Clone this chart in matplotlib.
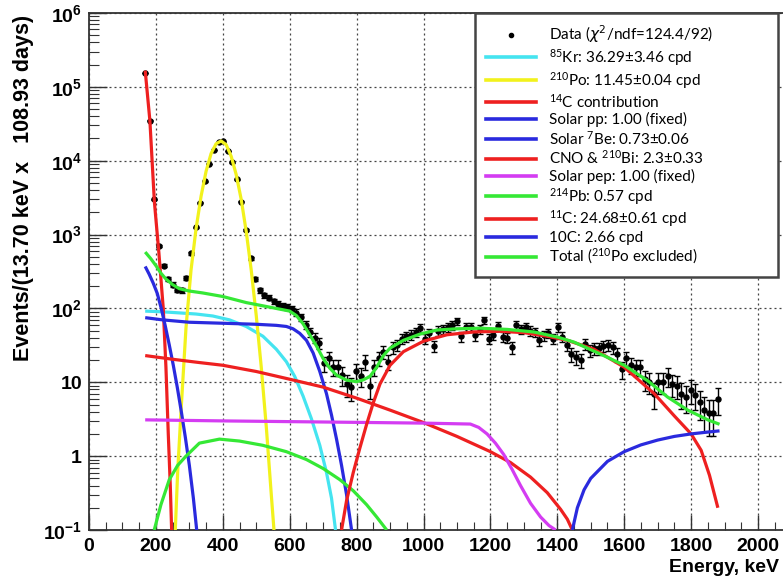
import numpy as np
import matplotlib
matplotlib.use("Agg")
import matplotlib.pyplot as plt
from matplotlib.lines import Line2D
from matplotlib.ticker import FixedLocator, MultipleLocator, NullFormatter

# ---------------- measured spectrum (13.70 keV bins) ----------------
bin_start = 168.0
bin_width = 13.70
counts = [
    1.55e5, 3.5e4, 3000, 700, 380, 250, 210, 180, 175, 260,
    560, 1250, 2700, 5300, 9000, 14000, 17800, 18300, 13500, 9500,
    5600, 2800, 1150, 480, 250, 175, 150, 140, 125, 116,
    108, 105, 98, 88, 76, 60, 48, 40, 34, 18,
    21, 16, 16, 12.5, 9.5, 8.5, 14, 12, 19, 9,
    16, 21, 26, 19, 30, 32, 39, 42, 44, 48,
    55, 39, 46, 31, 50, 53, 56, 59, 67, 42,
    56, 56, 43, 53, 69, 39, 44, 57, 41, 40,
    30, 59, 53, 56, 50, 48, 37, 43, 46, 39,
    56, 41, 32, 24, 22, 20, 33, 27, 29, 29,
    31, 32, 30, 24, 15, 21, 17, 16, 16, 11,
    10, 7, 10, 10, 12, 9.5, 9, 7, 6.3, 7.8,
    6.8, 5.4, 4.2, 3.8, 3.8, 6.0,
]

# ---------------- fit components ----------------
kr85_e = [168, 220, 270, 320, 370, 420, 470, 520, 560, 590, 615, 640, 665, 690, 710, 725, 737]
kr85_v = [92, 90, 87, 84, 79, 70, 57, 42, 28, 19, 12, 6.5, 3.2, 1.4, 0.6, 0.27, 0.1]

po210_e = [258, 265, 275, 290, 305, 320, 335, 350, 365, 380, 395, 410, 425, 440, 455, 470, 485,
           500, 515, 530, 545, 553]
po210_v = [0.1, 0.6, 4, 55, 330, 1200, 3300, 7200, 12500, 17000, 18500, 16500, 11500, 6500,
           3000, 1100, 330, 80, 16, 2.5, 0.3, 0.1]

c14_e = [168, 182, 195.4, 209, 222, 230, 237, 243, 247]
c14_v = [1.66e5, 3.5e4, 2800, 560, 100, 16, 2.0, 0.4, 0.1]

pp_e = [168, 180, 192, 204, 216, 228, 240, 252, 264, 276, 288, 300, 312, 322]
pp_v = [370, 290, 220, 160, 100, 58, 32, 17, 8.5, 4, 1.8, 0.75, 0.27, 0.1]

be7_e = [168, 220, 300, 400, 500, 560, 590, 610, 630, 650, 670, 690, 710, 725, 740, 755, 770, 785]
be7_v = [75, 70, 65, 63, 61, 59, 57, 53, 46, 37, 25, 14, 7, 3.6, 1.7, 0.75, 0.3, 0.1]

cno_e = [168, 250, 330, 400, 500, 600, 700, 800, 900, 1000, 1100, 1200, 1260, 1320, 1370,
         1410, 1430, 1445]
cno_v = [23, 20.5, 18.5, 17, 14, 11, 8.6, 6.1, 4.2, 2.85, 1.85, 1.15, 0.82, 0.52, 0.32,
         0.19, 0.14, 0.1]

pep_e = [168, 400, 700, 1000, 1140, 1165, 1190, 1215, 1240, 1265, 1290, 1320, 1350, 1375, 1395]
pep_v = [3.1, 3.0, 2.9, 2.8, 2.72, 2.45, 2.0, 1.5, 1.05, 0.66, 0.4, 0.23, 0.15, 0.115, 0.1]

pb214_e = [195, 215, 240, 265, 290, 330, 390, 450, 520, 590, 650, 700, 750, 790, 830, 860, 890]
pb214_v = [0.1, 0.22, 0.48, 0.75, 1.0, 1.5, 1.7, 1.6, 1.4, 1.15, 0.9, 0.68, 0.48, 0.34, 0.22,
           0.15, 0.1]

c11_e = [755, 770, 790, 810, 830, 850, 870, 900, 940, 1000, 1070, 1150, 1230, 1300, 1370, 1430,
         1510, 1600, 1690, 1750, 1800, 1830, 1855, 1880]
c11_v = [0.1, 0.25, 0.6, 1.3, 2.7, 5.3, 9.5, 17, 26, 36, 44, 48, 49, 47, 42, 37, 28, 16, 7.0,
         3.5, 2.0, 1.2, 0.55, 0.2]

c10_e = [1445, 1460, 1480, 1500, 1550, 1600, 1650, 1700, 1750, 1800, 1850, 1885]
c10_v = [0.1, 0.2, 0.35, 0.5, 0.85, 1.15, 1.42, 1.65, 1.85, 2.0, 2.12, 2.2]

total_e = [168, 185, 200, 215, 230, 250, 270, 300, 340, 400, 470, 550, 600, 620, 640, 660, 680,
           700, 720, 740, 770, 800, 820, 840, 860, 880, 900, 940, 990, 1040, 1100, 1170, 1250,
           1330, 1400, 1450, 1530, 1600, 1670, 1730, 1790, 1850, 1885]
total_v = [580, 470, 380, 300, 250, 210, 185, 172, 162, 145, 120, 102, 92, 80, 62, 44, 31,
           21, 15.5, 12.5, 10.7, 10.2, 10.8, 12, 16, 23, 29, 37, 45, 51, 53, 54, 52,
           48, 41, 35, 24, 17, 10.5, 6.3, 4.2, 3.1, 2.7]

legend_labels = [
    r"Data ($\chi^{2}$/ndf=124.4/92)",
    r"$\mathregular{^{85}}$Kr: 36.29±3.46 cpd",
    r"$\mathregular{^{210}}$Po: 11.45±0.04 cpd",
    r"$\mathregular{^{14}}$C contribution",
    "Solar pp: 1.00 (fixed)",
    r"Solar $\mathregular{^{7}}$Be: 0.73±0.06",
    r"CNO & $\mathregular{^{210}}$Bi: 2.3±0.33",
    "Solar pep: 1.00 (fixed)",
    r"$\mathregular{^{214}}$Pb: 0.57 cpd",
    r"$\mathregular{^{11}}$C: 24.68±0.61 cpd",
    "10C: 2.66 cpd",
    r"Total ($\mathregular{^{210}}$Po excluded)",
]

RED = "#ee2020"
BLUE = "#2a2ade"
CYAN = "#45e4f0"
YELLOW = "#f2f21c"
GREEN = "#35e835"
MAGENTA = "#d43cf2"

components = [
    (kr85_e, kr85_v, CYAN),
    (po210_e, po210_v, YELLOW),
    (c14_e, c14_v, RED),
    (pp_e, pp_v, BLUE),
    (be7_e, be7_v, BLUE),
    (cno_e, cno_v, RED),
    (pep_e, pep_v, MAGENTA),
    (pb214_e, pb214_v, GREEN),
    (c11_e, c11_v, RED),
    (c10_e, c10_v, BLUE),
    (total_e, total_v, GREEN),
]

# ---------------- figure ----------------
W, H = 783, 579
fig = plt.figure(figsize=(W / 100, H / 100), dpi=100)
ax_l, ax_r, ax_t, ax_b = 89, 783, 13, 530
ax = fig.add_axes([ax_l / W, 1 - ax_b / H, (ax_r - ax_l) / W, (ax_b - ax_t) / H])

px_per_kev = (758 - ax_l) / 2000.0
ax.set_xlim(0, (ax_r - ax_l) / px_per_kev)
ax.set_yscale("log")
ax.set_ylim(0.1, 1e6)

energy = bin_start + bin_width * np.arange(len(counts))
cnt = np.array(counts, dtype=float)
err = np.sqrt(cnt)
lo = np.minimum(err, cnt * 0.999)
ax.errorbar(energy, cnt, yerr=[lo, err], fmt="o", color="black", ms=3.6,
            elinewidth=1.0, capsize=2.2, capthick=1.0, zorder=3)

for e, v, c in components:
    ax.plot(e, v, color=c, lw=2.3, solid_capstyle="butt", zorder=4)

# axes cosmetics
ax.xaxis.set_major_locator(MultipleLocator(200))
ax.xaxis.set_minor_locator(MultipleLocator(50))
ax.yaxis.set_major_locator(FixedLocator([0.1, 1, 10, 100, 1e3, 1e4, 1e5, 1e6]))
ax.yaxis.set_minor_locator(FixedLocator([m * 10.0 ** k for k in range(-1, 6) for m in range(2, 10)]))
ax.yaxis.set_minor_formatter(NullFormatter())

tick_font = {"family": "Liberation Sans", "weight": "bold", "size": 14}
xt = np.arange(0, 2001, 200)
ax.set_xticks(xt)
ax.set_xticklabels([str(int(v)) for v in xt], fontdict=tick_font)
ylabels = [r"$\mathregular{10^{-1}}$", "1", "10", r"$\mathregular{10^{2}}$",
           r"$\mathregular{10^{3}}$", r"$\mathregular{10^{4}}$", r"$\mathregular{10^{5}}$",
           r"$\mathregular{10^{6}}$"]
ax.set_yticks([0.1, 1, 10, 100, 1e3, 1e4, 1e5, 1e6])
ax.set_yticklabels(ylabels, fontdict=tick_font)

ax.tick_params(which="both", direction="in", top=False, right=False, color="#333333")
ax.tick_params(axis="y", which="major", length=13, width=1.0, pad=5)
ax.tick_params(axis="y", which="minor", length=7, width=0.8)
ax.tick_params(axis="x", which="major", length=11, width=1.0, pad=6)
ax.tick_params(axis="x", which="minor", length=6, width=0.8)

ax.grid(True, which="major", linestyle=(0, (1.6, 2.4)), color="#444444", linewidth=0.9)
for side in ("left", "bottom", "top"):
    ax.spines[side].set_linewidth(1.3)
    ax.spines[side].set_color("#333333")
ax.spines["right"].set_visible(False)

fig.text(24 / W, 1 - 15 / H, "Events/(13.70 keV x   108.93 days)", rotation=90,
         ha="center", va="top", fontfamily="Liberation Sans", fontweight="bold", fontsize=15.5)
fig.text(779 / W, 1 - 568 / H, "Energy, keV", ha="right", va="center",
         fontfamily="Liberation Sans", fontweight="bold", fontsize=14)

# legend
handles = [Line2D([], [], marker="o", color="black", ls="none", ms=3)]
for e, v, c in components:
    handles.append(Line2D([], [], color=c, lw=2.6))
lx0, lx1, ly_top = 475, 778, 13
leg = ax.legend(handles, legend_labels, loc="upper left",
                bbox_to_anchor=(lx0 / W, 1 - ly_top / H, (lx1 - lx0) / W, 0),
                bbox_transform=fig.transFigure, mode="expand", borderaxespad=0,
                frameon=True, fancybox=False, framealpha=1, edgecolor="#444444",
                prop={"family": ["Lato", "DejaVu Sans"], "size": 11},
                handlelength=3.3, handletextpad=0.85, labelspacing=0.12, borderpad=0.7)
leg.get_frame().set_linewidth(1.8)
leg.set_zorder(10)

fig.savefig("out.png", dpi=100, facecolor="white")
